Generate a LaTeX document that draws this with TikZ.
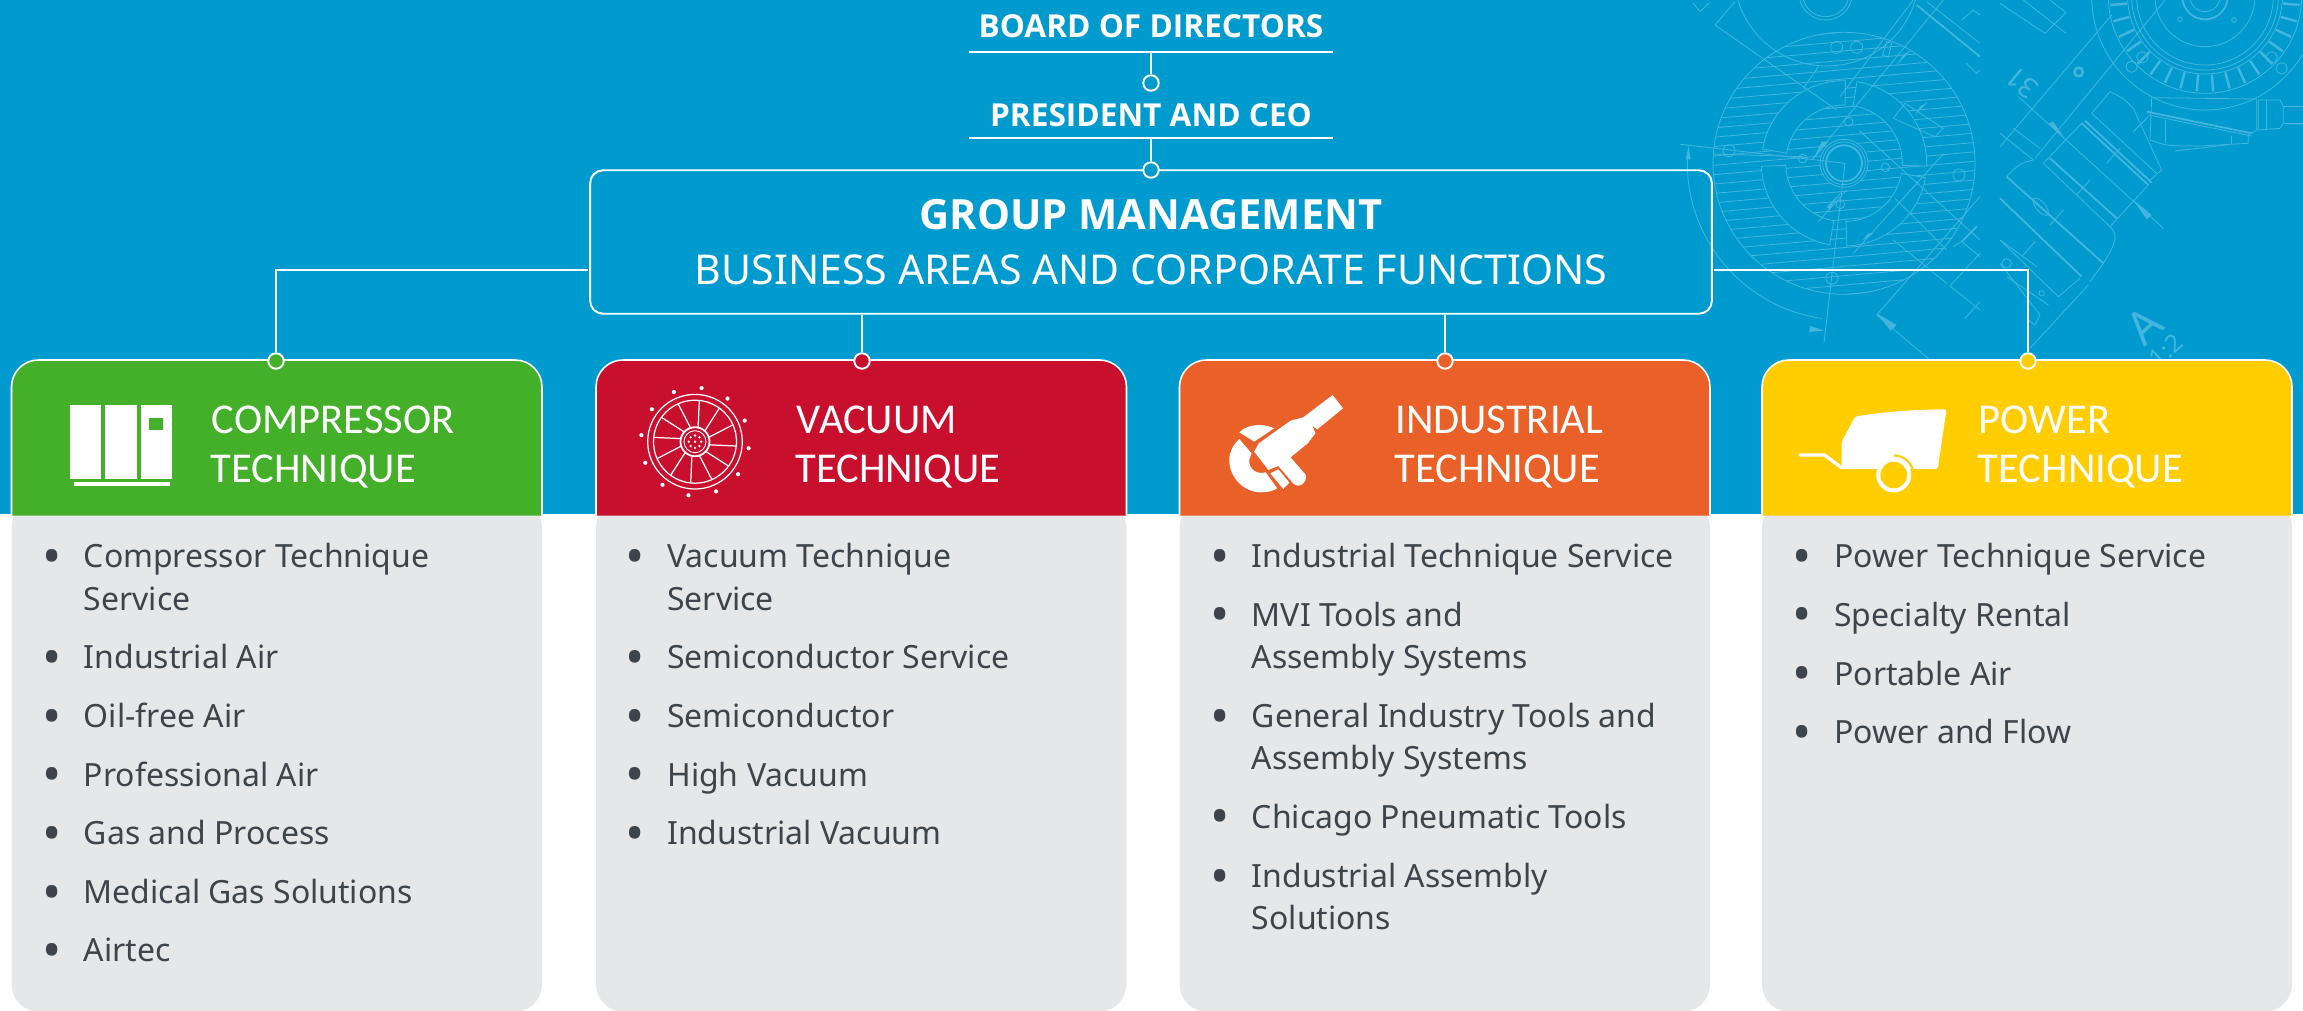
\documentclass[tikz,border=0pt]{standalone}
\usepackage{fontspec}
\setmainfont{Noto Sans}
\newfontfamily\headfont{Carlito}
\newfontfamily\titlefont{Open Sans}
\definecolor{bluebg}{HTML}{009BCE}
\definecolor{bpline}{HTML}{45B5E0}
\definecolor{greycard}{HTML}{E6E7E8}
\definecolor{greytext}{HTML}{3D444B}
\definecolor{greencard}{HTML}{44B02A}
\definecolor{redcard}{HTML}{C8102E}
\definecolor{orangecard}{HTML}{E96028}
\definecolor{yellowcard}{HTML}{FFCD00}
\newcommand{\itm}{\makebox[0pt][r]{\raisebox{-3.9pt}{\scalebox{1.6}{\textbullet}}\hspace{12.8pt}}}
\begin{document}
\begin{tikzpicture}[x=0.02cm,y=-0.02cm,
	link/.style={draw=white,line width=1.1pt},
	dot/.style={circle,draw=white,line width=1.1pt,minimum size=15.5*0.567pt,inner sep=0pt},
	toplabel/.style={text=white,inner sep=0pt,anchor=base,font=\titlefont\fontsize{18pt}{22pt}\selectfont\bfseries},
	headlabel/.style={text=white,inner sep=0pt,anchor=base west,font=\headfont\fontsize{24.2pt}{28pt}\selectfont},
	item/.style={text=greytext,inner sep=0pt,anchor=base west,font=\fontsize{18.2pt}{22pt}\selectfont},
	headcard/.style={draw=white,line width=0.9pt,rounded corners=27*0.567pt},
	bodycard/.style={fill=greycard,rounded corners=28*0.567pt},
	bp/.style={draw=bpline,line width=0.45pt},
	bpthick/.style={draw=bpline,line width=1pt},
	bpfill/.style={fill=bpline},
	icon/.style={draw=white,line width=0.7pt}]
	\useasboundingbox (0,0) rectangle (2303,1011);
	\clip (0,0) rectangle (2303,1011);
	\fill[white] (0,0) rectangle (2303,1011);
	\fill[bluebg] (0,0) rectangle (2303,514);

	\begin{scope}[shift={(1844,163.3)},xscale=.3333,yscale=-.3333]
		\draw[bp] (0,0) circle (393);
		\begin{scope}[rotate=-5]
			\clip (0,0) circle (393);
			\foreach \h in {-392,-364,...,392}
				\draw[bp] (-400,\h) -- (400,\h);
		\end{scope}
		\foreach \sa/\sb in {170/89,81/-2,182/260,272/350}
			\path[fill=bluebg,bp] (\sa:175) arc[start angle=\sa,end angle=\sb,radius=175] -- (\sb:248) arc[start angle=\sb,end angle=\sa,radius=248] -- cycle;
		\fill[bluebg] (0,0) circle (72);
		\draw[bp] (0,0) circle (72);
		\draw[bp] (0,0) circle (64);
		\draw[bpthick] (0,0) circle (54);
		\draw[bp] (176:470) arc[start angle=176,end angle=262,radius=470];
	\end{scope}

	\begin{scope}[shift={(1660,0)},xscale=.3333,yscale=.3333]
		\draw[bp] (530,142) circle (18);
		\draw[bp] (590,142) circle (18);
		\draw[bp] (207,452) circle (18);
		\draw[bp] (897,525) circle (18);
		\draw[bp] (516,835) circle (18);
		\draw[bp] (428,476) circle (13);
		\draw[bp] (676,502) circle (13);
		\draw[bp] (566,365) circle (13);
		\draw[bp] (541,613) circle (13);
		\draw[bp] (62,433) -- (555,490) -- (492,1028);
		\draw[bp] (160,462) -- (430,470);
		\fill[bpfill] (85,437) -- (78,478) -- (92,478) -- cycle;
		\fill[bpfill] (492,992) -- (450,978) -- (448,996) -- cycle;
		\draw[bp] (500,-80) circle (278);
		\draw[bp] (497,-20) circle (80);
		\draw[bp] (497,-20) circle (70);
		\draw[bp] (165,75) -- (530,330);
		\draw[bp] (165,75) -- (225,5);
		\draw[bp] (100,10) -- (120,35) -- (148,8);
		\draw[bp] (430,265) -- (475,200);
		\draw[bp] (455,480) -- (850,0);
		\draw[bp] (475,665) -- (560,570);
		\draw[bp] (580,760) -- (850,462);
		\draw[bp] (598,392) -- (960,720);
		\draw[bp] (705,595) -- (860,750);
		\draw[bp] (700,720) -- (860,850);
		\fill[bpfill] (505,425) -- (485,425) -- (460,478) -- cycle;
		\fill[bpfill] (775,548) -- (750,570) -- (725,600) -- cycle;
		\fill[bpfill] (550,570) -- (520,608) -- (510,630) -- (500,622) -- cycle;
		\fill[bpfill] (607,722) -- (625,700) -- (640,700) -- cycle;
		\fill[bpfill] (755,148) -- (730,165) -- (710,195) -- cycle;
		\fill[bpfill] (805,305) -- (780,320) -- (765,345) -- cycle;
		\draw[bp] (700,355) -- (735,310) -- (850,385) -- (825,410) -- cycle;
		\draw[bp] (668,165) -- (680,125) -- (695,130) -- (685,172) -- cycle;
		\draw[bpthick] (770,15) -- (960,170);
		\draw[bp] (800,5) -- (960,130);
		\draw[bp] (905,60) -- (940,30) -- (960,45);
		\draw[bp] (760,0) -- (540,290);
		\draw[bp] (920,190) -- (950,220) -- (960,210);
		\draw[bp] (650,945) -- (960,590);
		\draw[bp] (650,945) -- (810,1080);
		\fill[bpfill] (650,940) -- (710,975) -- (692,992) -- cycle;
		\draw[bp] (870,858) -- (960,930);
		\draw[bp] (870,858) -- (960,760);
		\draw[bp] (915,955) -- (960,905);
		\draw[bp] (880,740) -- (905,725) -- (960,770);
		\draw[bpthick] (905,725) -- (950,680);
	\end{scope}

	\begin{scope}[shift={(2000,0)},xscale=.3333,yscale=.3333]
		\draw[bp] (615,-10) circle (340);
		\draw[bp] (615,-10) circle (290);
		\draw[bp] (615,-10) circle (232);
		\draw[bp] (615,-10) circle (220);
		\draw[bp] (615,-10) circle (205);
		\draw[bp] (615,-10) circle (150);
		\draw[bpthick] (615,-10) circle (68);
		\draw[bp] (615,-10) circle (45);
		\foreach \t in {-175,-165,...,-5}
			\draw[bpthick,line width=1.4pt] ([shift={(615,-10)}]\t:-235) -- ([shift={(615,-10)}]\t:-285);
		\draw[bp] (395,200) circle (17);
		\draw[bp] (845,205) circle (17);
		\draw[bp] (427,172) circle (17);
		\draw[bp] (815,172) circle (17);
		\draw[bp] (540,58) circle (7);
		\draw[bp] (702,60) circle (7);
		\draw[bp] (455,293) -- (770,297) -- (770,390) -- (755,400);
		\draw[bpthick] (440,335) -- (755,400);
		\draw[bp] (445,345) -- (755,408);
		\draw[bp] (455,293) -- (450,420) .. controls (500,438) .. (600,438) -- (745,430) -- (745,402);
		\draw[bp] (497,360) -- (497,430);
		\draw[bp] (525,453) -- (680,435);
		\draw[bp] (695,408) -- (695,432);
		\draw[bp] (775,300) -- (840,300) -- (850,320) -- (850,370) -- (840,385) -- (775,390) -- cycle;
		\draw[bp] (800,300) -- (800,390);
		\draw[bp] (850,320) -- (909,320);
		\draw[bp] (850,370) -- (909,370);
		\draw[bp] (0,440) -- (335,45);
		\draw[bp] (105,475) -- (495,0);
		\draw[bp] (130,490) -- (245,370);
		\draw[bpthick] (245,370) -- (445,555);
		\draw[bpthick] (255,362) -- (455,548);
		\draw[bp] (275,340) -- (470,520);
		\draw[bp] (275,340) -- (330,275) .. controls (370,295) .. (400,325) -- (485,510) -- (450,540);
		\draw[bpthick] (150,475) -- (350,655);
		\draw[bp] (130,490) -- (330,680);
		\draw[bp] (330,680) -- (445,555);
		\draw[bp] (330,680) .. controls (355,705) and (350,725) .. (310,790) -- (270,845);
		\draw[bpthick] (20,530) -- (310,790);
		\draw[bpthick] (0,595) -- (245,830);
		\draw[bp] (240,835) -- (175,890);
		\draw[bp] (0,720) -- (175,890);
		\draw[bp] (100,480) .. controls (60,490) .. (20,530);
		\draw[bp] (55,290) -- (490,685);
		\fill[bpfill] (145,370) -- (160,365) -- (190,410) -- cycle;
		\fill[bpfill] (400,600) -- (455,645) -- (440,658) -- cycle;
		\draw[bp] (40,385) -- (120,445);
		\draw[bp] (0,400) -- (100,480);
		\draw[bp] (265,855) -- (90,1045);
		\draw[bp] (190,630) -- (150,675);
		\draw[bp] (105,725) -- (65,770);
		\draw[bp] (270,540) -- (230,585);
		\draw[bp] (400,395) -- (445,350);
		\draw[bp] (320,490) -- (360,445);
		\draw[bp,rotate around={-50:(122,620)}] (122,620) ellipse (32 and 14);
		\draw[bpthick,line width=1.4pt] (236,216) circle (13);
		\draw[bp] (0,10) -- (135,100) -- (198,38) -- (150,0);
		\draw[bp] (70,0) -- (198,100);
		\draw[bp] (0,720) -- (110,800);
		\draw[bp] (0,790) -- (120,945) -- (105,975) -- (85,960);
		\draw[bp] (20,830) -- (145,915);
		\draw[bp] (125,880) circle (8);
		\draw[bp] (20,790) circle (14);
	\end{scope}
	\node[text=bpline,inner sep=0pt,rotate=140,font=\fontsize{16pt}{16pt}\selectfont] (num31) at (2021.7,83.3) {31};
	\node[text=bpline,inner sep=0pt,rotate=42,font=\fontsize{26pt}{26pt}\selectfont] (letA) at (2144,326) {A};
	\node[text=bpline,inner sep=0pt,rotate=42,font=\fontsize{14pt}{14pt}\selectfont] (ratio) at (2166,350.7) {1:2};

	\node[toplabel] (board) at (1151,37.5) {BOARD OF DIRECTORS};
	\node[toplabel] (president) at (1151,126) {PRESIDENT AND CEO};
	\coordinate (boardrulel) at (969,52);
	\coordinate (boardruler) at (1333,52);
	\coordinate (boardrule) at (1151,52);
	\coordinate (presrulel) at (969,138);
	\coordinate (presruler) at (1333,138);
	\coordinate (presrule) at (1151,138);
	\draw[link] (boardrulel) -- (boardruler);
	\draw[link] (presrulel) -- (presruler);

	\node[draw=white,line width=1.1pt,rounded corners=13*0.567pt,minimum width=1126*0.567pt,minimum height=144*0.567pt,inner sep=0pt] (group) at (1151,242) {};
	\node[text=white,inner sep=0pt,font=\titlefont\fontsize{23.7pt}{28pt}\selectfont\bfseries] (grouptitle) at (1151,215) {GROUP MANAGEMENT};
	\node[text=white,inner sep=0pt,font=\fontsize{23.4pt}{26pt}\selectfont] (groupsub) at (1151,270) {BUSINESS AREAS AND CORPORATE FUNCTIONS};

	\node[dot,fill=bluebg] (dotboard) at (1151,83) {};
	\node[dot,fill=bluebg] (dotgroup) at (1151,170) {};
	\draw[link] (boardrule) -- (dotboard);
	\draw[link] (presrule) -- (dotgroup);

	\coordinate (groupleft) at (588,270);
	\coordinate (groupright) at (1714,270);

	\fill[bodycard] (11.5,500) rectangle (542,1012);
	\fill[bodycard] (596,500) rectangle (1126.5,1012);
	\fill[bodycard] (1179.5,500) rectangle (1710,1012);
	\fill[bodycard] (1762,500) rectangle (2292,1012);
	\path[headcard,fill=greencard] (11.5,515.5) -- (11.5,360) -- (542,360) -- (542,515.5);
	\path[headcard,fill=redcard] (596,515.5) -- (596,360) -- (1126.5,360) -- (1126.5,515.5);
	\path[headcard,fill=orangecard] (1179.5,515.5) -- (1179.5,360) -- (1710,360) -- (1710,515.5);
	\path[headcard,fill=yellowcard] (1762,515.5) -- (1762,360) -- (2292,360) -- (2292,515.5);

	\node[dot,fill=greencard] (dotcomp) at (276,361) {};
	\node[dot,fill=redcard] (dotvac) at (862,361) {};
	\node[dot,fill=orangecard] (dotind) at (1445,361) {};
	\node[dot,fill=yellowcard] (dotpow) at (2028,361) {};
	\draw[link] (groupleft) -| (dotcomp);
	\draw[link] (groupright) -| (dotpow);
	\draw[link] (group.south -| dotvac) -- (dotvac);
	\draw[link] (group.south -| dotind) -- (dotind);

	\fill[white] (70,405.3) rectangle (101.4,479);
	\fill[white] (105,405.3) rectangle (136.6,479);
	\fill[white] (140.5,405.3) rectangle (172,479);
	\fill[greencard] (149.3,418.3) rectangle (163,430.3);
	\fill[white] (74,481.7) rectangle (169.5,486);

	\begin{scope}[shift={(695,441.7)},yscale=-1]
		\draw[icon] (0,0) circle (47.3);
		\draw[icon] (0,0) circle (41.5);
		\draw[icon,line width=1pt] (0,0) circle (14.5);
		\draw[icon,line width=0.5pt] (0,0) circle (11);
		\foreach \a in {84,54,...,-246}
			\draw[icon] (\a:41) -- (\a-6:15);
		\foreach \a in {83,53,...,-247}
			\fill[white] (\a:54) circle (2.1);
		\foreach \a in {0,45,...,315}
			\fill[white] (\a:6.2) circle (1.3);
		\fill[white] (0,0) circle (1.3);
	\end{scope}

	\begin{scope}[shift={(1170,340)},xscale=.3827,yscale=.3333]
		\fill[white] (425,165) -- (452,205) -- (385,268) -- (372,258) -- (380,280) -- (360,310) -- (315,352) -- (355,405) .. controls (358,425) and (345,437) .. (335,437) .. controls (325,437) and (320,428) .. (316,422) -- (283,378) -- (257,390) -- (220,335) -- (232,310) -- (315,242) -- (348,232) -- cycle;
		\fill[white] (181,277) .. controls (205,250) and (245,250) .. (272,265) -- (220,305) -- cycle;
		\fill[white] (181,297) .. controls (165,315) and (155,335) .. (155,360) .. controls (155,415) and (195,457) .. (237,457) .. controls (255,457) and (270,453) .. (280,445) -- (250,397) .. controls (225,405) and (205,385) .. (207,360) -- (213,340) -- cycle;
		\fill[white] (262,400) -- (283,388) -- (312,428) -- (296,447) -- cycle;
		\fill[orangecard] (320,355) -- (332,345) -- (332,370) -- cycle;
	\end{scope}

	\fill[white,rounded corners=1pt] (1855,416.7) .. controls (1880,412) and (1920,409.3) .. (1946.5,409.3) -- (1937.7,469) -- (1841.7,469) -- (1841.7,441.7) -- cycle;
	\draw[white,line width=1.9pt,line cap=round,line join=round] (1800,455) -- (1824.3,455) -- (1842,468);
	\fill[white] (1893.7,475) circle (17.5);
	\fill[yellowcard] (1893.7,475) circle (13.3);
	\draw[yellowcard,line width=1.2pt] (1894,455.5) arc[start angle=-90,end angle=-8,radius=19.5];

	\node[headlabel] (comphead) at (211.5,433.3) {COMPRESSOR};
	\node[headlabel] (comphead2) at (210.5,482.3) {TECHNIQUE};
	\node[headlabel] (vachead) at (796.5,433.3) {VACUUM};
	\node[headlabel] (vachead2) at (795,482.3) {TECHNIQUE};
	\node[headlabel] (indhead) at (1395,433.3) {INDUSTRIAL};
	\node[headlabel] (indhead2) at (1394.5,482.3) {TECHNIQUE};
	\node[headlabel] (powhead) at (1978.5,433.3) {POWER};
	\node[headlabel] (powhead2) at (1977.5,482.3) {TECHNIQUE};

	\node[item] (comp1) at (83.5,567.5) {\itm Compressor Technique};
	\node[item] (comp1b) at (83.5,610) {Service};
	\node[item] (comp2) at (83.5,668.5) {\itm Industrial Air};
	\node[item] (comp3) at (83.5,727.5) {\itm Oil-free Air};
	\node[item] (comp4) at (83.5,786) {\itm Professional Air};
	\node[item] (comp5) at (83.5,844.5) {\itm Gas and Process};
	\node[item] (comp6) at (83.5,903.5) {\itm Medical Gas Solutions};
	\node[item] (comp7) at (83.5,961.5) {\itm Airtec};

	\node[item] (vac1) at (667,567.5) {\itm Vacuum Technique};
	\node[item] (vac1b) at (667,610) {Service};
	\node[item] (vac2) at (667,668.5) {\itm Semiconductor Service};
	\node[item] (vac3) at (667,727.5) {\itm Semiconductor};
	\node[item] (vac4) at (667,786) {\itm High Vacuum};
	\node[item] (vac5) at (667,844.5) {\itm Industrial Vacuum};

	\node[item] (ind1) at (1251.5,567.5) {\itm Industrial Technique Service};
	\node[item] (ind2) at (1251.5,626) {\itm MVI Tools and};
	\node[item] (ind2b) at (1251.5,668.5) {Assembly Systems};
	\node[item] (ind3) at (1251.5,727.5) {\itm General Industry Tools and};
	\node[item] (ind3b) at (1251.5,769) {Assembly Systems};
	\node[item] (ind4) at (1251.5,828) {\itm Chicago Pneumatic Tools};
	\node[item] (ind5) at (1251.5,887.5) {\itm Industrial Assembly};
	\node[item] (ind5b) at (1251.5,929) {Solutions};

	\node[item] (pow1) at (1834,567.5) {\itm Power Technique Service};
	\node[item] (pow2) at (1834,626) {\itm Specialty Rental};
	\node[item] (pow3) at (1834,685) {\itm Portable Air};
	\node[item] (pow4) at (1834,743.5) {\itm Power and Flow};
\end{tikzpicture}
\end{document}
